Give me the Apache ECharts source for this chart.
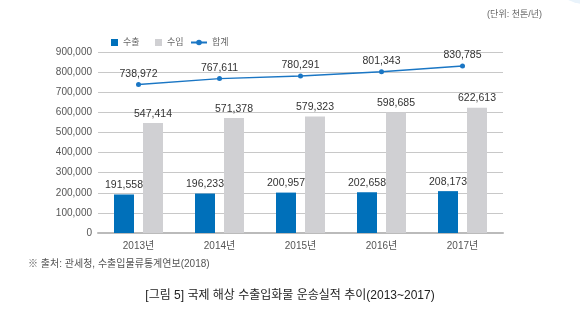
<!DOCTYPE html>
<html>
<head>
<meta charset="utf-8">
<script src="https://cdn.jsdelivr.net/npm/echarts@6/dist/echarts.min.js"></script>
<style>
html,body{margin:0;padding:0;background:#fff;}
#c{width:580px;height:330px;}
</style>
</head>
<body>
<div id="c"></div>
<script>
var categories = ['2013년', '2014년', '2015년', '2016년', '2017년'];
var exportVals = [191558, 196233, 200957, 202658, 208173];
var importVals = [547414, 571378, 579323, 598685, 622613];
var totalVals = [738972, 767611, 780291, 801343, 830785];
var yTicks = { min: 0, max: 900000, interval: 100000 };

var FONT = '"Liberation Sans", "Noto Sans CJK KR", sans-serif';
var fmt = function (v) { return v.toLocaleString('en-US'); };
var legendText = { color: '#666', fontSize: 9, fontFamily: FONT };

var chart = echarts.init(document.getElementById('c'), null, { renderer: 'canvas' });
chart.setOption({
  animation: false,
  textStyle: { fontFamily: FONT },
  graphic: [
    { type: 'ellipse', shape: { cx: 600, cy: -20, rx: 50, ry: 26 }, style: { fill: '#e9f3fb' }, silent: true },
    { type: 'text', right: 38, top: 10, style: { text: '(단위: 천톤/년)', fill: '#666', font: '9px ' + FONT } },
    { type: 'text', left: 28, top: 259, style: { text: '※ 출처: 관세청, 수출입물류통계연보(2018)', fill: '#555', font: '10px ' + FONT } },
    { type: 'text', left: 'center', top: 290, style: { text: '[그림 5] 국제 해상 수출입화물 운송실적 추이(2013~2017)', fill: '#222', font: '12px ' + FONT } }
  ],
  legend: [
    { data: ['수출'], left: 106, top: 33, itemWidth: 7, itemHeight: 7, icon: 'rect', textStyle: legendText, itemGap: 4 },
    { data: ['수입'], left: 150, top: 33, itemWidth: 7, itemHeight: 7, icon: 'rect', textStyle: legendText },
    { data: ['합계'], left: 185, top: 33, itemWidth: 16, itemHeight: 7, textStyle: legendText }
  ],
  grid: { left: 98, right: 77, top: 52, bottom: 97, containLabel: false },
  xAxis: {
    type: 'category', data: categories,
    axisLine: { lineStyle: { color: '#bbb', width: 2 } },
    axisTick: { show: false },
    axisLabel: { color: '#555', fontSize: 10, margin: 8, fontFamily: FONT }
  },
  yAxis: {
    type: 'value', min: yTicks.min, max: yTicks.max, interval: yTicks.interval,
    axisLine: { show: false }, axisTick: { show: false },
    axisLabel: { color: '#555', fontSize: 10, margin: 6, formatter: fmt, fontFamily: FONT },
    splitLine: { lineStyle: { color: '#c8c8c8', width: 1 } }
  },
  series: [
    {
      name: '수출', type: 'bar', data: exportVals, barWidth: 20, barGap: '45%', barCategoryGap: '40%',
      itemStyle: { color: '#0070BA' },
      label: { show: true, position: 'top', distance: 4, color: '#333', fontSize: 10.5, formatter: function (p) { return fmt(p.value); }, fontFamily: FONT }
    },
    {
      name: '수입', type: 'bar', data: importVals, barWidth: 20,
      itemStyle: { color: '#D0D0D3' },
      label: { show: true, position: 'top', distance: 4, color: '#333', fontSize: 10.5, formatter: function (p) { return fmt(p.value); }, fontFamily: FONT }
    },
    {
      name: '합계', type: 'line', data: totalVals,
      symbol: 'circle', symbolSize: 5,
      lineStyle: { color: '#1a76c4', width: 1.5 },
      itemStyle: { color: '#1a76c4' },
      label: { show: true, position: 'top', distance: 3, color: '#333', fontSize: 10.5, formatter: function (p) { return fmt(p.value); }, fontFamily: FONT }
    }
  ]
});
</script>
</body>
</html>
